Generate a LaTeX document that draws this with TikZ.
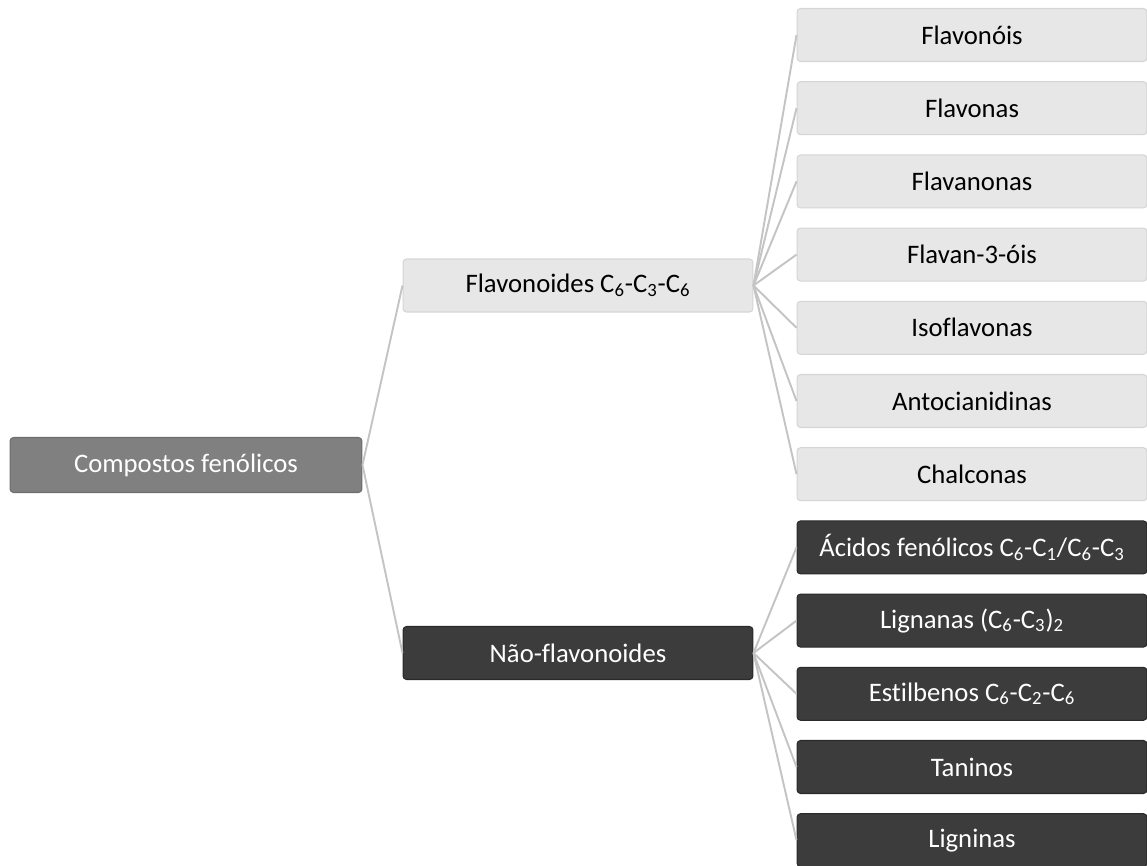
\documentclass[tikz,border=0pt]{standalone}
\usepackage{fontspec}
\setmainfont{Carlito}[Ligatures=NoCommon]
\definecolor{rootgray}{RGB}{128,128,128}
\definecolor{palegray}{RGB}{231,231,231}
\definecolor{deepgray}{RGB}{60,60,60}
\definecolor{linkgray}{RGB}{196,196,196}
\usetikzlibrary{positioning}

\begin{document}
\begin{tikzpicture}[x=0.02cm, y=-0.02cm,
    box/.style={rounded corners=2pt, minimum width=7cm, minimum height=1.06cm,
        inner sep=0pt, line width=0.6pt, font=\fontsize{15.2}{18}\selectfont},
    rootbox/.style={box, fill=rootgray, draw=rootgray!85!black, text=white,
        minimum width=7.04cm, minimum height=1.1cm},
    palebox/.style={box, fill=palegray, draw=palegray!92!black, text=black},
    deepbox/.style={box, fill=deepgray, draw=deepgray!70!black, text=white},
    link/.style={draw=linkgray, line width=1.1pt}]
    \useasboundingbox (0, 0) rectangle (1147, 866);
    % root and the two groups
    \node[rootbox] (root) at (186, 465) {Compostos fenólicos};
    \node[palebox] (flav) at (578, 285.5) {Flavonoides C\textsubscript{6}-C\textsubscript{3}-C\textsubscript{6}};
    \node[deepbox] (nonflav) at (578, 653) {Não-flavonoides};
    % flavonoid classes
    \foreach \txt [count=\i] in {Flavonóis, Flavonas, Flavanonas, Flavan-3-óis,
        Isoflavonas, Antocianidinas, Chalconas} {
        \node[palebox] (fl\i) at (972, {35 + 73.2*(\i-1)}) {\txt};
    }
    % non-flavonoid classes
    \foreach \txt [count=\i] in {{Ácidos fenólicos C\textsubscript{6}-C\textsubscript{1}/C\textsubscript{6}-C\textsubscript{3}},
        {Lignanas (C\textsubscript{6}-C\textsubscript{3})\textsubscript{2}},
        {Estilbenos C\textsubscript{6}-C\textsubscript{2}-C\textsubscript{6}},
        Taninos, Ligninas} {
        \node[deepbox] (nf\i) at (972, {35 + 73.2*(\i+6)}) {\txt};
    }
    % connectors
    \draw[link] (root.east) -- (flav.west);
    \draw[link] (root.east) -- (nonflav.west);
    \foreach \i in {1,...,7} \draw[link] (flav.east) -- (fl\i.west);
    \foreach \i in {1,...,5} \draw[link] (nonflav.east) -- (nf\i.west);
\end{tikzpicture}
\end{document}
